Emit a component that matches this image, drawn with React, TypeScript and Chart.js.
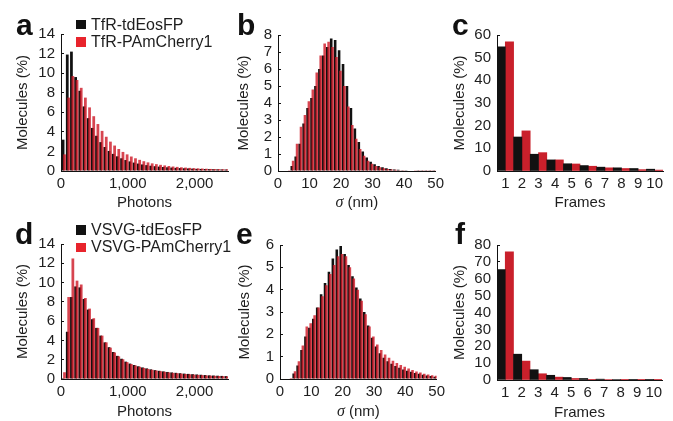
import React, { useEffect, useRef } from 'react';
import { Chart, registerables } from 'chart.js';

Chart.register(...registerables);

// ---------------- data ----------------
const PHOTON_BIN = 62.5; // photons per histogram bin
const SIGMA_BIN = 1.25; // nm per histogram bin

const photonTicks = [0, 1000, 2000];
const sigmaTicks = [0, 10, 20, 30, 40, 50];
const frameLabels = ['1', '2', '3', '4', '5', '6', '7', '8', '9', '10'];

// a: TfR photons (%)
const tfrEosPhotons = [3.2, 11.9, 12.2, 9.6, 8.2, 6.6, 5.4, 4.4, 3.6, 2.95, 2.45, 2.05, 1.75, 1.5, 1.3, 1.12, 0.98, 0.86, 0.76, 0.67, 0.6, 0.54, 0.49, 0.45, 0.41, 0.38, 0.35, 0.32, 0.3, 0.28, 0.26, 0.24, 0.22, 0.21, 0.2, 0.19, 0.18, 0.17, 0.16, 0.15];
const tfrCherryPhotons = [1.7, 7.5, 9.7, 9.3, 8.5, 7.5, 6.5, 5.6, 4.8, 4.1, 3.5, 3.0, 2.6, 2.25, 1.95, 1.7, 1.48, 1.3, 1.14, 1.0, 0.88, 0.78, 0.7, 0.63, 0.57, 0.51, 0.46, 0.42, 0.38, 0.35, 0.32, 0.29, 0.27, 0.25, 0.23, 0.21, 0.2, 0.19, 0.18, 0.17];

// b: TfR sigma (%)
const tfrEosSigma = [0, 0, 0.03, 0.3, 0.85, 1.6, 2.8, 3.7, 4.3, 5.0, 6.0, 6.8, 7.3, 7.8, 7.7, 7.1, 6.3, 5.0, 3.7, 2.5, 1.7, 1.15, 0.8, 0.55, 0.4, 0.3, 0.22, 0.16, 0.12, 0.09, 0.07, 0.05, 0.04, 0.03, 0.03, 0.02, 0.02, 0.02, 0.01, 0.01];
const tfrCherrySigma = [0, 0, 0.05, 0.6, 1.6, 2.6, 3.3, 4.1, 4.8, 5.8, 6.8, 7.5, 7.6, 7.3, 6.7, 5.9, 5.0, 3.8, 2.7, 1.9, 1.3, 0.9, 0.6, 0.42, 0.3, 0.22, 0.16, 0.12, 0.09, 0.07, 0.05, 0.04, 0.03, 0.03, 0.02, 0.02, 0.02, 0.01, 0.01, 0.01];

// c: TfR frames (%)
const tfrEosFrames = [54.8, 15.0, 7.4, 4.9, 3.2, 2.4, 1.7, 1.4, 1.1, 0.8];
const tfrCherryFrames = [57.0, 17.7, 8.1, 4.9, 3.1, 2.1, 1.4, 1.1, 0.6, 0.4];

// d: VSVG photons (%)
const vsvgEosPhotons = [0.1, 4.9, 8.5, 9.6, 9.5, 8.3, 7.2, 6.2, 5.3, 4.5, 3.8, 3.3, 2.8, 2.4, 2.1, 1.8, 1.6, 1.45, 1.32, 1.2, 1.1, 1.0, 0.92, 0.85, 0.79, 0.73, 0.68, 0.64, 0.6, 0.56, 0.53, 0.5, 0.47, 0.44, 0.41, 0.38, 0.36, 0.34, 0.32, 0.3];
const vsvgCherryPhotons = [0.7, 8.5, 12.5, 10.2, 9.8, 8.4, 7.3, 6.3, 5.3, 4.5, 3.8, 3.25, 2.75, 2.35, 2.05, 1.75, 1.55, 1.4, 1.27, 1.15, 1.05, 0.96, 0.88, 0.81, 0.75, 0.69, 0.64, 0.6, 0.56, 0.52, 0.49, 0.46, 0.43, 0.4, 0.37, 0.35, 0.33, 0.31, 0.29, 0.27];

// e: VSVG sigma (%)
const vsvgEosSigma = [0, 0, 0.02, 0.25, 0.6, 1.3, 1.9, 2.3, 2.7, 3.2, 3.8, 4.3, 4.8, 5.4, 5.8, 5.95, 5.6, 5.1, 4.6, 4.1, 3.6, 3.0, 2.4, 1.85, 1.45, 1.15, 0.95, 0.8, 0.68, 0.58, 0.5, 0.43, 0.37, 0.32, 0.27, 0.23, 0.19, 0.16, 0.13, 0.1];
const vsvgCherrySigma = [0, 0, 0.05, 0.35, 0.8, 1.5, 2.35, 2.5, 2.85, 3.2, 3.7, 4.2, 4.7, 5.1, 5.5, 5.6, 5.5, 5.0, 4.5, 4.0, 3.5, 2.9, 2.35, 1.9, 1.55, 1.3, 1.1, 0.95, 0.82, 0.72, 0.63, 0.55, 0.47, 0.4, 0.34, 0.29, 0.24, 0.2, 0.17, 0.14];

// f: VSVG frames (%)
const vsvgEosFrames = [65.5, 15.3, 6.1, 2.8, 1.5, 0.9, 0.5, 0.3, 0.2, 0.15];
const vsvgCherryFrames = [75.9, 11.2, 3.7, 1.7, 0.9, 0.4, 0.3, 0.2, 0.1, 0.1];

const tfrNames = ['TfR-tdEosFP', 'TfR-PAmCherry1'];
const vsvgNames = ['VSVG-tdEosFP', 'VSVG-PAmCherry1'];

// ---------------- style ----------------
const FONT = '"Liberation Sans", Arial, Helvetica, sans-serif';
const TEXT = '#1e1e1e';
const AXIS = '#111111';
const BLACK = '#111111';
const RED_SOLID = '#c9202b';
const RED_LEGEND = '#e8242c';
const RED_OVERLAY = 'rgba(205, 22, 36, 0.8)';
const TICK_SIZE = 15;
const TITLE_SIZE = 15;

const Y_AXIS_W = 50;
const X_AXIS_H = 44;
const PAD_TOP = 10;
const RED_SHIFT = 0.34;
const BAR_FRAC = 0.66;

type Geo = { x0: number; x1: number; y0: number; y1: number; padR: number; yTitlePad: number; xTitleGap: number };

const geoA: Geo = { x0: 61, x1: 228, y0: 26, y1: 171, padR: 12, yTitlePad: 2.5, xTitleGap: 32 };
const geoB: Geo = { x0: 278, x1: 436, y0: 27, y1: 171, padR: 12, yTitlePad: 7, xTitleGap: 32 };
const geoC: Geo = { x0: 497, x1: 663, y0: 27, y1: 171, padR: 8, yTitlePad: 3.5, xTitleGap: 32 };
const geoD: Geo = { x0: 61, x1: 228, y0: 236, y1: 379, padR: 12, yTitlePad: 2.5, xTitleGap: 33 };
const geoE: Geo = { x0: 280, x1: 437, y0: 237, y1: 379, padR: 12, yTitlePad: 5.5, xTitleGap: 33 };
const geoF: Geo = { x0: 497, x1: 662, y0: 237, y1: 380, padR: 8, yTitlePad: 4, xTitleGap: 33 };

const sigmaTitlePlugin = {
  id: 'sigmaTitle',
  afterDraw(chart: any, _args: any, opts: any) {
    if (!opts || !opts.display) return;
    const { ctx, chartArea } = chart;
    ctx.save();
    const italic = `italic ${TITLE_SIZE + 1}px "Liberation Serif", "DejaVu Serif", serif`;
    const normal = `${TITLE_SIZE}px ${FONT}`;
    ctx.font = italic;
    const w1 = ctx.measureText('σ').width;
    ctx.font = normal;
    const rest = ' (nm)';
    const w2 = ctx.measureText(rest).width;
    const cx = (chartArea.left + chartArea.right) / 2;
    const x = cx - (w1 + w2) / 2;
    const y = chartArea.bottom + opts.gap;
    ctx.textBaseline = 'middle';
    ctx.textAlign = 'left';
    ctx.fillStyle = TEXT;
    ctx.font = italic;
    ctx.fillText('σ', x, y);
    ctx.font = normal;
    ctx.fillText(rest, x + w1, y);
    ctx.restore();
  },
};

function yAxis(geo: Geo, max: number, step: number) {
  return {
    min: 0,
    max,
    ticks: { stepSize: step, autoSkip: false, color: TEXT, font: { family: FONT, size: TICK_SIZE }, padding: 9 },
    grid: { display: true, drawOnChartArea: false, drawTicks: true, tickLength: -3, color: AXIS, tickColor: AXIS, lineWidth: 1 },
    border: { display: true, color: AXIS, width: 1, z: 1 },
    title: { display: true, text: 'Molecules (%)', color: TEXT, font: { family: FONT, size: TITLE_SIZE }, padding: { top: geo.yTitlePad, bottom: 0 } },
    afterFit: (s: any) => {
      s.width = Y_AXIS_W;
    },
  };
}

function xTitle(geo: Geo, text: string | null) {
  const lh = TITLE_SIZE * 1.2;
  return {
    display: !!text,
    text: text || '',
    color: TEXT,
    font: { family: FONT, size: TITLE_SIZE },
    padding: { top: 0, bottom: X_AXIS_H - geo.xTitleGap - lh / 2 },
  };
}

function baseOptions(geo: Geo) {
  return {
    responsive: false,
    animation: false,
    devicePixelRatio: 1,
    events: [],
    layout: { padding: { top: PAD_TOP, right: geo.padR, left: 0, bottom: 0 } },
    plugins: { legend: { display: false }, tooltip: { enabled: false }, sigmaTitle: { display: false, gap: geo.xTitleGap } },
  };
}

function histConfig(p: {
  geo: Geo;
  black: number[];
  red: number[];
  names: string[];
  bin: number;
  xMax: number;
  xTicks: number[];
  yMax: number;
  yStep: number;
  title: string | null;
  sigma: boolean;
}) {
  const centers = p.black.map((_, i) => (i + 0.5) * p.bin);
  const shift = p.bin * RED_SHIFT;
  const base: any = baseOptions(p.geo);
  base.plugins.sigmaTitle.display = p.sigma;
  return {
    type: 'bar',
    data: {
      datasets: [
        {
          label: p.names[0],
          data: centers.map((x, i) => ({ x, y: p.black[i] })),
          backgroundColor: BLACK,
          xAxisID: 'x',
          grouped: false,
          order: 1,
          categoryPercentage: 1,
          barPercentage: BAR_FRAC,
        },
        {
          label: p.names[1],
          data: centers.map((x, i) => ({ x, y: p.red[i] })),
          backgroundColor: RED_OVERLAY,
          xAxisID: 'x2',
          grouped: false,
          order: 0,
          categoryPercentage: 1,
          barPercentage: BAR_FRAC,
        },
      ],
    },
    options: {
      ...base,
      scales: {
        x: {
          type: 'linear',
          min: 0,
          max: p.xMax,
          offset: false,
          afterBuildTicks: (s: any) => {
            s.ticks = p.xTicks.map((v) => ({ value: v }));
          },
          ticks: {
            color: TEXT,
            font: { family: FONT, size: TICK_SIZE },
            padding: 4,
            maxRotation: 0,
            autoSkip: false,
            callback: (v: any) => Number(v).toLocaleString('en-US'),
          },
          grid: { display: false, drawTicks: false, offset: false },
          border: { display: true, color: AXIS, width: 1, z: 1 },
          title: xTitle(p.geo, p.title),
          afterFit: (s: any) => {
            s.height = X_AXIS_H;
          },
        },
        x2: {
          type: 'linear',
          display: false,
          min: -shift,
          max: p.xMax - shift,
          offset: false,
          grid: { offset: false },
        },
        y: yAxis(p.geo, p.yMax, p.yStep),
      },
    },
    plugins: [sigmaTitlePlugin],
  };
}

function framesConfig(p: { geo: Geo; black: number[]; red: number[]; names: string[]; yMax: number; yStep: number }) {
  const base: any = baseOptions(p.geo);
  return {
    type: 'bar',
    data: {
      labels: frameLabels,
      datasets: [
        { label: p.names[0], data: p.black, backgroundColor: BLACK, categoryPercentage: 1, barPercentage: 1 },
        { label: p.names[1], data: p.red, backgroundColor: RED_SOLID, categoryPercentage: 1, barPercentage: 1 },
      ],
    },
    options: {
      ...base,
      scales: {
        x: {
          offset: true,
          ticks: { color: TEXT, font: { family: FONT, size: TICK_SIZE }, padding: 4, maxRotation: 0, autoSkip: false },
          grid: { display: false, drawTicks: false, offset: true },
          border: { display: true, color: AXIS, width: 1, z: 1 },
          title: xTitle(p.geo, 'Frames'),
          afterFit: (s: any) => {
            s.height = X_AXIS_H;
          },
        },
        y: yAxis(p.geo, p.yMax, p.yStep),
      },
    },
    plugins: [sigmaTitlePlugin],
  };
}

function Panel({ geo, make }: { geo: Geo; make: () => any }) {
  const ref = useRef<HTMLCanvasElement>(null);
  const left = geo.x0 - Y_AXIS_W;
  const top = geo.y0 - PAD_TOP;
  const width = geo.x1 - geo.x0 + Y_AXIS_W + geo.padR;
  const height = geo.y1 - geo.y0 + PAD_TOP + X_AXIS_H;
  useEffect(() => {
    const chart = new Chart(ref.current as HTMLCanvasElement, make());
    return () => chart.destroy();
  }, []);
  return (
    <canvas
      ref={ref}
      width={width}
      height={height}
      style={{ position: 'absolute', left, top, width, height }}
    />
  );
}

function Letter({ ch, left, baseline }: { ch: string; left: number; baseline: number }) {
  return (
    <div
      style={{
        position: 'absolute',
        left,
        top: baseline - 25.5,
        fontFamily: FONT,
        fontWeight: 'bold',
        fontSize: 30,
        lineHeight: '30px',
        color: '#111',
      }}
    >
      {ch}
    </div>
  );
}

function Legend({ names, left, top }: { names: string[]; left: number; top: number }) {
  const colors = [BLACK, RED_LEGEND];
  return (
    <div style={{ position: 'absolute', left, top, fontFamily: FONT, fontSize: 16, color: TEXT }}>
      {names.map((n, i) => (
        <div key={n} style={{ display: 'flex', alignItems: 'center', height: 17.4, whiteSpace: 'nowrap' }}>
          <span style={{ display: 'inline-block', width: 9.5, height: 9.5, background: colors[i], marginRight: 5.5 }} />
          <span>{n}</span>
        </div>
      ))}
    </div>
  );
}

export default function App() {
  return (
    <div
      style={{
        position: 'fixed',
        left: 0,
        top: 0,
        width: 673,
        height: 421,
        background: '#ffffff',
        overflow: 'hidden',
      }}
    >
      <Panel
        geo={geoA}
        make={() =>
          histConfig({ geo: geoA, black: tfrEosPhotons, red: tfrCherryPhotons, names: tfrNames, bin: PHOTON_BIN, xMax: 2500, xTicks: photonTicks, yMax: 14, yStep: 2, title: 'Photons', sigma: false })
        }
      />
      <Panel
        geo={geoB}
        make={() =>
          histConfig({ geo: geoB, black: tfrEosSigma, red: tfrCherrySigma, names: tfrNames, bin: SIGMA_BIN, xMax: 50, xTicks: sigmaTicks, yMax: 8, yStep: 1, title: null, sigma: true })
        }
      />
      <Panel geo={geoC} make={() => framesConfig({ geo: geoC, black: tfrEosFrames, red: tfrCherryFrames, names: tfrNames, yMax: 60, yStep: 10 })} />
      <Panel
        geo={geoD}
        make={() =>
          histConfig({ geo: geoD, black: vsvgEosPhotons, red: vsvgCherryPhotons, names: vsvgNames, bin: PHOTON_BIN, xMax: 2500, xTicks: photonTicks, yMax: 14, yStep: 2, title: 'Photons', sigma: false })
        }
      />
      <Panel
        geo={geoE}
        make={() =>
          histConfig({ geo: geoE, black: vsvgEosSigma, red: vsvgCherrySigma, names: vsvgNames, bin: SIGMA_BIN, xMax: 50, xTicks: sigmaTicks, yMax: 6, yStep: 1, title: null, sigma: true })
        }
      />
      <Panel geo={geoF} make={() => framesConfig({ geo: geoF, black: vsvgEosFrames, red: vsvgCherryFrames, names: vsvgNames, yMax: 80, yStep: 10 })} />

      <Legend names={tfrNames} left={76} top={15.8} />
      <Legend names={vsvgNames} left={76} top={221.3} />

      <Letter ch="a" left={16} baseline={35} />
      <Letter ch="b" left={237} baseline={35} />
      <Letter ch="c" left={452} baseline={35} />
      <Letter ch="d" left={15} baseline={244} />
      <Letter ch="e" left={236} baseline={244} />
      <Letter ch="f" left={455} baseline={244} />
    </div>
  );
}
